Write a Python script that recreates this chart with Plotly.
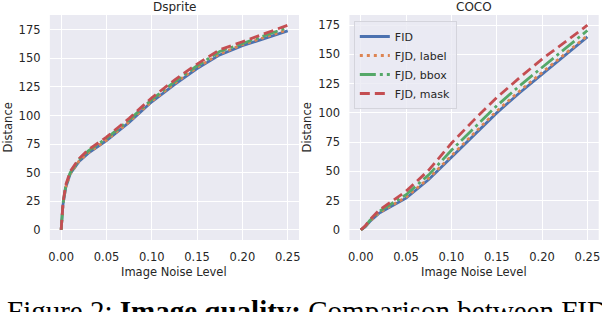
import plotly.graph_objects as go

noise = [0, 0.001, 0.002, 0.005, 0.01, 0.02, 0.03, 0.05, 0.075, 0.1, 0.125, 0.15, 0.175, 0.2, 0.25]

ds_fid   = [0, 12, 22, 37, 49, 60, 67, 78, 94, 112, 127, 141, 153, 161, 174]
ds_label = [0, 12, 22, 37, 49, 60.5, 67.5, 78.5, 94.5, 112.5, 128, 142, 154, 162, 175]
ds_bbox  = [0, 12.5, 23, 38, 50, 61.5, 69, 80, 96, 114, 129.5, 143.5, 156, 163, 177]
ds_mask  = [0, 13, 23.5, 39, 51, 62.5, 70, 81, 97.5, 115.5, 131, 145, 157.5, 164.5, 179]

coco_fid   = [0, 0.3, 0.8, 2.5, 7, 14, 18.5, 27, 43, 62, 81, 100, 117, 133, 165]
coco_label = [0, 0.3, 0.9, 2.7, 7.3, 14.5, 19, 28, 44, 63.5, 82.5, 101.5, 118.5, 134.5, 166]
coco_bbox  = [0, 0.4, 1, 3, 8, 15.5, 20.5, 30, 47, 68, 87, 106, 123, 139, 170.5]
coco_mask  = [0, 0.5, 1.2, 3.3, 8.5, 16.5, 22, 33, 51, 74, 94, 113, 130, 146, 175]

names = ["FID", "FJD, label", "FJD, bbox", "FJD, mask"]
colors = ["#4C72B0", "#DD8452", "#55A868", "#C44E52"]
dashes = ["solid", "3px,4px", "16px,4px,3px,4px", "10px,5px"]
x_ticks = [0, 0.05, 0.1, 0.15, 0.2, 0.25]
y_ticks = [0, 25, 50, 75, 100, 125, 150, 175]

fig = go.Figure()
for series, xa, ya, show in [
    ([ds_fid, ds_label, ds_bbox, ds_mask], "x", "y", False),
    ([coco_fid, coco_label, coco_bbox, coco_mask], "x2", "y2", True),
]:
    for vals, name, c, d in zip(series, names, colors, dashes):
        fig.add_trace(go.Scatter(
            x=noise, y=vals, mode="lines", name=name, xaxis=xa, yaxis=ya,
            line=dict(color=c, width=2.8, dash=d), showlegend=show,
        ))

axis_common = dict(
    showgrid=True, gridcolor="white", gridwidth=1.4, zeroline=False, showline=False,
    ticks="outside", ticklen=6, tickcolor="rgba(0,0,0,0)",
    tickfont=dict(family="DejaVu Sans", size=11.5, color="#262626"),
)
fig.update_layout(
    width=602, height=312, margin=dict(l=0, r=0, t=0, b=0),
    paper_bgcolor="white", plot_bgcolor="#EAEAF2",
    xaxis=dict(domain=[0.0814, 0.4967], range=[-0.0125, 0.2625], tickvals=x_ticks,
               tickformat=".2f", anchor="y", **axis_common),
    yaxis=dict(domain=[0.2308, 0.952], range=[-8.95, 187.95], tickvals=y_ticks,
               anchor="x", **axis_common),
    xaxis2=dict(domain=[0.5807, 0.9962], range=[-0.0125, 0.2625], tickvals=x_ticks,
                tickformat=".2f", anchor="y2", **axis_common),
    yaxis2=dict(domain=[0.2308, 0.952], range=[-8.75, 183.75], tickvals=y_ticks,
                anchor="x2", **axis_common),
    legend=dict(x=354 / 602, y=1 - 21 / 312, xanchor="left", yanchor="top",
                bgcolor="rgba(234,234,242,0.8)", bordercolor="#d4d4dc", borderwidth=1,
                font=dict(family="DejaVu Sans", size=11, color="#262626"),
                tracegroupgap=0, itemwidth=30),
    showlegend=True,
)

lab = dict(family="DejaVu Sans", size=11.5, color="#262626")
ann = []
for xc, title in [((0.0814 + 0.4967) / 2, "Dsprite"), ((0.5807 + 0.9962) / 2, "COCO")]:
    ann.append(dict(text=title, x=xc, y=1 - 7 / 312, xref="paper", yref="paper",
                    xanchor="center", yanchor="middle", showarrow=False,
                    font=dict(family="DejaVu Sans", size=12, color="#262626")))
    ann.append(dict(text="Image Noise Level", x=xc, y=1 - 272 / 312, xref="paper", yref="paper",
                    xanchor="center", yanchor="middle", showarrow=False, font=lab))
for xp in [7, 307]:
    ann.append(dict(text="Distance", x=xp / 602, y=1 - 127.5 / 312, xref="paper", yref="paper",
                    xanchor="center", yanchor="middle", textangle=-90, showarrow=False, font=lab))
ann.append(dict(text="Figure 2: <b>Image quality:</b> Comparison between FID",
                x=4 / 602, y=1 - 292.5 / 312, xref="paper", yref="paper",
                xanchor="left", yanchor="top", showarrow=False,
                font=dict(family="Liberation Serif", size=29, color="black")))
fig.update_layout(annotations=ann)

fig.write_html("out.html", config={"displayModeBar": False},
               post_script="document.body.style.margin='0';document.body.style.overflow='hidden';")
